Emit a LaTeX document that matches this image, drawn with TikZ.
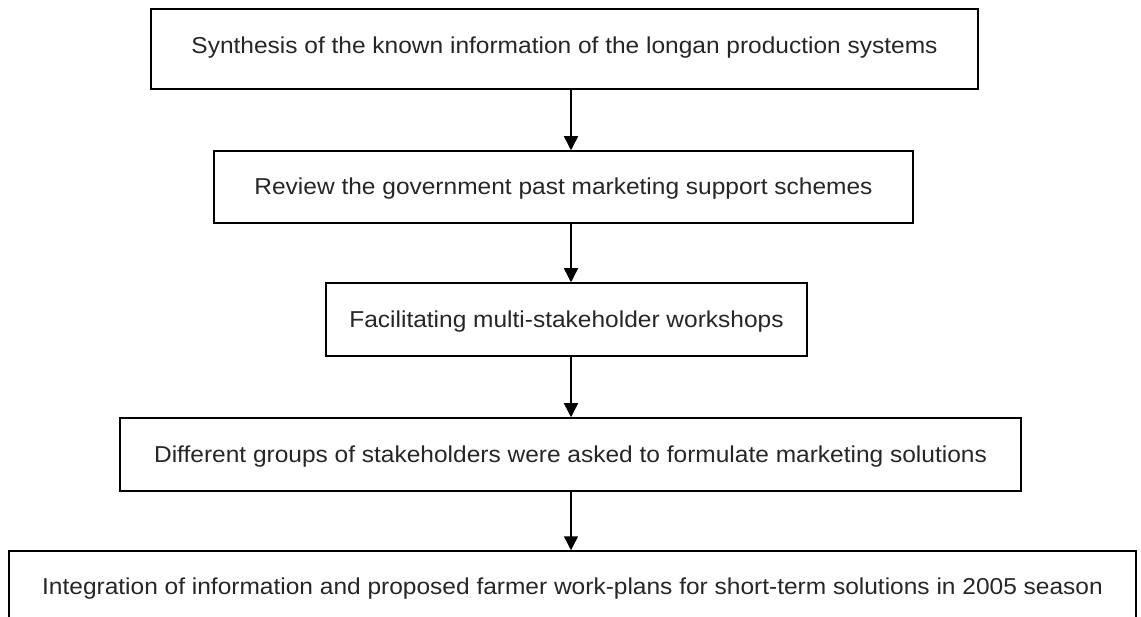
\documentclass[tikz,border=0pt]{standalone}
\usepackage{fontspec}
\setmainfont[FakeStretch=1.065]{Liberation Sans}
\usetikzlibrary{arrows.meta}
\begin{document}
\begin{tikzpicture}[x=1pt,y=-1pt,
  box/.style={draw=black, line width=1.5pt, inner sep=0pt, text=black!85,
    font=\fontsize{23}{27}\selectfont},
  arr/.style={line width=1.5pt, -{Triangle[length=14pt,width=14pt]}}]
\useasboundingbox (0,0) rectangle (1141,617);
\clip (0,0) rectangle (1141,617);
\coordinate (ax) at (571,0);
\node[box, minimum width=827pt, minimum height=80pt, text height=16pt, text depth=7.4pt] (b1) at (564.5,49)
  {Synthesis of the known information of the longan production systems};
\node[box, minimum width=699pt, minimum height=72pt, text height=20pt, text depth=4pt] (b2) at (563.5,187)
  {Review the government past marketing support schemes};
\node[box, minimum width=481pt, minimum height=73pt, text height=20pt, text depth=3pt] (b3) at (566.5,319.5)
  {Facilitating multi-stakeholder workshops};
\node[box, minimum width=901pt, minimum height=73pt, text height=20pt, text depth=3pt] (b4) at (570.5,454.5)
  {Different groups of stakeholders were asked to formulate marketing solutions};
\node[box, minimum width=1127pt, minimum height=89pt, text height=10pt, text depth=13pt] (b5) at (572.5,595.5)
  {Integration of information and proposed farmer work-plans for short-term solutions in 2005 season};
\draw[arr] (b1.south -| ax) -- (b2.north -| ax);
\draw[arr] (b2.south -| ax) -- (b3.north -| ax);
\draw[arr] (b3.south -| ax) -- (b4.north -| ax);
\draw[arr] (b4.south -| ax) -- (b5.north -| ax);
\end{tikzpicture}
\end{document}
